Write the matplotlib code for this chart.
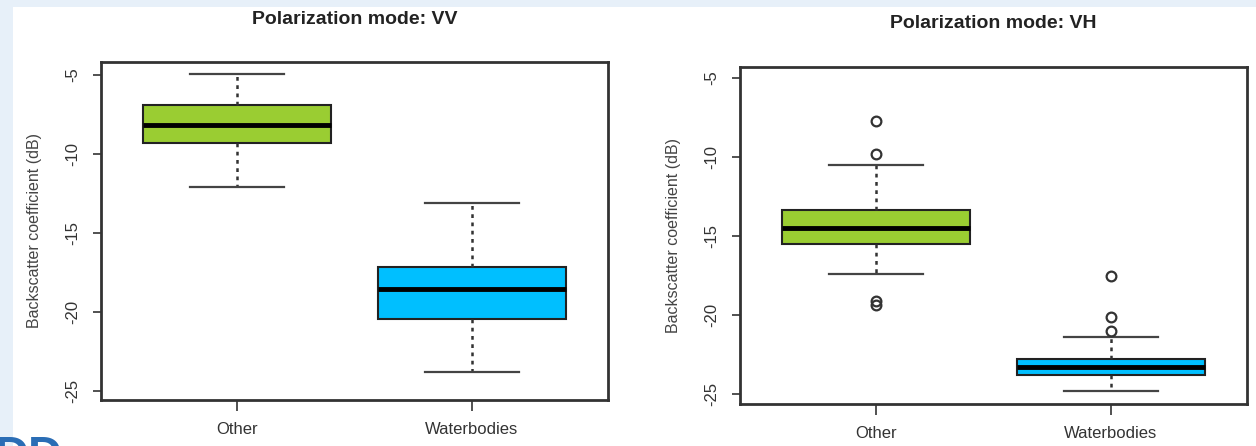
import matplotlib
matplotlib.use("Agg")
import matplotlib.pyplot as plt
from matplotlib.patches import Rectangle

plt.rcParams['font.family'] = ['Liberation Sans', 'DejaVu Sans']

categories = ['Other', 'Waterbodies']
box_colors = ['#9ACD32', '#00BFFF']
yticks = [-5, -10, -15, -20, -25]

# five-number summaries: (whislo, q1, med, q3, whishi)
vv_other = (-12.1, -9.3, -8.17, -6.93, -4.97)
vv_water = (-23.8, -20.5, -18.55, -17.15, -13.1)
vh_other = (-17.42, -15.53, -14.52, -13.36, -10.53)
vh_water = (-24.8, -23.78, -23.27, -22.78, -21.38)

vv_other_out = []
vv_water_out = []
vh_other_out = [-7.75, -9.85, -19.14, -19.4]
vh_water_out = [-17.52, -20.15, -21.0]


def make_stats(summaries, outliers):
    stats = []
    for s, o in zip(summaries, outliers):
        stats.append(dict(whislo=s[0], q1=s[1], med=s[2], q3=s[3], whishi=s[4], fliers=o))
    return stats


def draw_panel(ax, stats, title, title_y):
    bp = ax.bxp(stats, positions=[1, 2], widths=0.8, capwidths=0.4, patch_artist=True,
                showfliers=True,
                boxprops=dict(linewidth=1.5, edgecolor='#222222'),
                medianprops=dict(color='black', linewidth=3.5, solid_capstyle='butt'),
                whiskerprops=dict(color='#333333', linewidth=1.8, linestyle=(0, (1.5, 1.8))),
                capprops=dict(color='#444444', linewidth=1.6),
                flierprops=dict(marker='o', markersize=7, markerfacecolor='none',
                                markeredgecolor='#333333', markeredgewidth=1.6))
    for patch, c in zip(bp['boxes'], box_colors):
        patch.set_facecolor(c)
    ax.set_xlim(0.42, 2.58)
    ax.set_xticks([1, 2])
    ax.set_xticklabels(categories, fontsize=12, color='#333333')
    ax.set_yticks(yticks)
    ax.set_yticklabels([str(t) for t in yticks], rotation=90, va='center', fontsize=12,
                       color='#333333')
    ax.tick_params(axis='y', length=6, width=1.2, pad=9, color='#333333')
    ax.tick_params(axis='x', length=8, width=1.2, pad=8, color='#333333')
    ax.set_ylabel('Backscatter coefficient (dB)', fontsize=11.5, color='#444444', labelpad=17)
    for sp in ax.spines.values():
        sp.set_linewidth(2)
        sp.set_color('#333333')
    ax.set_facecolor('white')
    pos = ax.get_position()
    fig.text((pos.x0 + pos.x1) / 2, 1 - title_y / 446, title, ha='center', va='center',
             fontsize=14, fontweight='bold', color='#222222')


fig = plt.figure(figsize=(12.56, 4.46), dpi=100)
fig.patch.set_facecolor('#E7F0F9')
fig.patches.append(Rectangle((13 / 1256, 0), 1 - 13 / 1256, 1 - 7 / 446,
                             transform=fig.transFigure, facecolor='white',
                             edgecolor='none', zorder=-5))

ax1 = fig.add_axes([101 / 1256, 46 / 446, 507 / 1256, 338 / 446])
ax1.set_ylim(-25.6, -4.2)
draw_panel(ax1, make_stats([vv_other, vv_water], [vv_other_out, vv_water_out]),
           'Polarization mode: VV', 19)

ax2 = fig.add_axes([740 / 1256, 42 / 446, 507 / 1256, 337 / 446])
ax2.set_ylim(-25.63, -4.33)
draw_panel(ax2, make_stats([vh_other, vh_water], [vh_other_out, vh_water_out]),
           'Polarization mode: VH', 24)

# watermark letters peeking in at the bottom-left corner
fig.text(-0.004, -0.075, 'DD', fontsize=34, fontweight='bold', color='#2A6DB5',
         ha='left', va='bottom')

fig.savefig('out.png', dpi=100, facecolor=fig.get_facecolor())
